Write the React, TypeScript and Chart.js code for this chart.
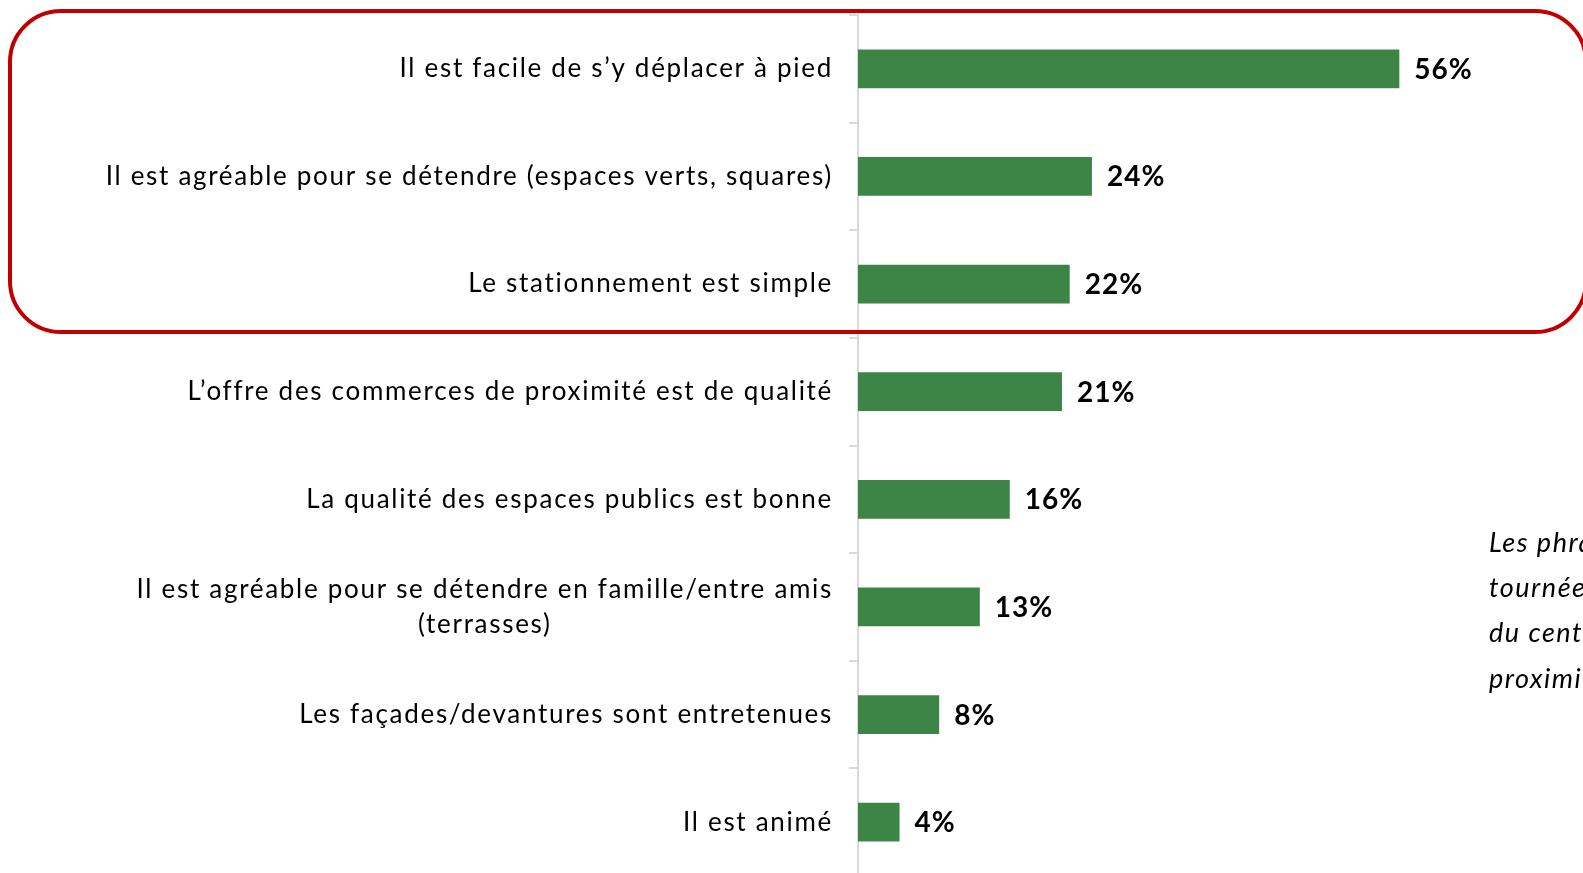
import React, { useEffect, useRef } from "react";
import { Chart, registerables } from "chart.js";

Chart.register(...registerables);

const categories: string[][] = [
  ["Il est facile de s’y déplacer à pied"],
  ["Il est agréable pour se détendre (espaces verts, squares)"],
  ["Le stationnement est simple"],
  ["L’offre des commerces de proximité est de qualité"],
  ["La qualité des espaces publics est bonne"],
  ["Il est agréable pour se détendre en famille/entre amis", "(terrasses)"],
  ["Les façades/devantures sont entretenues"],
  ["Il est animé"],
];
const values: number[] = [56, 24.2, 21.9, 21.1, 15.7, 12.6, 8.4, 4.3];
const sideNote: string[] = ["Les phrases les plus citées", "tournées vers l’accessibilité", "du centre-ville et la", "proximité"];

const GREEN = "#3d8547";
const LABEL_FONT = "26px Lato";
const VALUE_FONT = "bold 28px Lato";

export default function App() {
  const ref = useRef<HTMLCanvasElement | null>(null);
  useEffect(() => {
    if (!ref.current) return;
    const overlay = {
      id: "overlay",
      afterDatasetsDraw(chart: any) {
        const ctx = chart.ctx;
        const y = chart.scales.y;
        const meta = chart.getDatasetMeta(0);
        ctx.save();
        // category labels
        ctx.fillStyle = "#000";
        ctx.font = LABEL_FONT;
        ctx.letterSpacing = "1.7px";
        ctx.textBaseline = "middle";
        categories.forEach((lines, i) => {
          const cy = y.getPixelForValue(i);
          const lh = 35.5;
          const widths = lines.map((l) => ctx.measureText(l).width);
          const maxW = Math.max(...widths);
          const right = 833;
          lines.forEach((l, j) => {
            const ly = cy + (j - (lines.length - 1) / 2) * lh;
            ctx.textAlign = "center";
            ctx.fillText(l, right - maxW / 2, ly);
          });
        });
        // value labels
        ctx.font = VALUE_FONT;
        ctx.letterSpacing = "1px";
        ctx.textAlign = "left";
        meta.data.forEach((bar: any, i: number) => {
          ctx.fillText(Math.round(values[i]) + "%", bar.x + 15, bar.y + 1);
        });
        // side note
        ctx.font = "italic 27px Lato";
        ctx.letterSpacing = "1.5px";
        ctx.textBaseline = "middle";
        sideNote.forEach((t, i) => {
          ctx.fillText(t, 1489, 543 + i * 45.3);
        });
        ctx.letterSpacing = "0px";
        // red rounded box
        ctx.strokeStyle = "#c00000";
        ctx.lineWidth = 4;
        const x0 = 10, y0 = 11, x1 = 1586, y1 = 332, r = 51;
        ctx.beginPath();
        ctx.moveTo(x0 + r, y0);
        ctx.lineTo(x1 - r, y0);
        ctx.arcTo(x1, y0, x1, y0 + r, r);
        ctx.lineTo(x1, y1 - r);
        ctx.arcTo(x1, y1, x1 - r, y1, r);
        ctx.lineTo(x0 + r, y1);
        ctx.arcTo(x0, y1, x0, y1 - r, r);
        ctx.lineTo(x0, y0 + r);
        ctx.arcTo(x0, y0, x0 + r, y0, r);
        ctx.closePath();
        ctx.stroke();
        ctx.restore();
      },
    };
    const chart = new Chart(ref.current, {
      type: "bar",
      data: {
        labels: categories.map((c) => c.join(" ")),
        datasets: [
          {
            data: values,
            backgroundColor: GREEN,
            barPercentage: 0.36,
            categoryPercentage: 1,
          },
        ],
      },
      options: {
        indexAxis: "y",
        responsive: false,
        animation: false,
        layout: { padding: { top: 15, bottom: 4, left: 0, right: 0 } },
        plugins: { legend: { display: false }, tooltip: { enabled: false } },
        scales: {
          x: { display: false, min: 0, max: 75 },
          y: {
            ticks: { display: false },
            grid: { drawOnChartArea: false, tickLength: 9, color: "#d9d9d9", lineWidth: 2, offset: true },
            border: { color: "#d9d9d9", width: 2 },
            afterFit: (s: any) => {
              s.width = 858;
            },
          },
        },
      },
      plugins: [overlay],
    });
    return () => chart.destroy();
  }, []);
  return (
    <div style={{ position: "fixed", left: 0, top: 0, width: 1583, height: 873, overflow: "hidden", background: "#fff" }}>
      <canvas ref={ref} width={1583} height={880} style={{ display: "block" }} />
    </div>
  );
}
